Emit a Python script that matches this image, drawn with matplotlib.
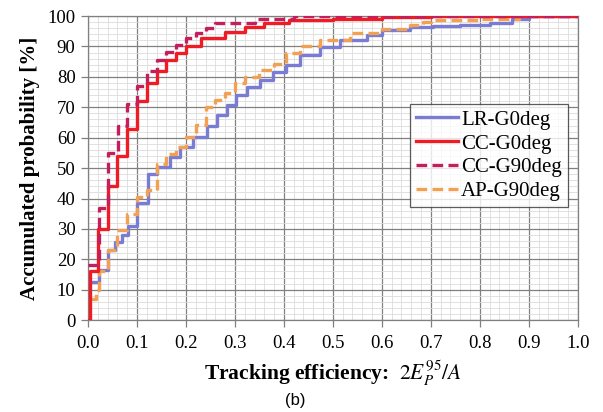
import matplotlib
matplotlib.use("Agg")
import matplotlib.pyplot as plt
from matplotlib.ticker import MultipleLocator

# ---- data ----
lr_x = [0.0, 0.022, 0.04, 0.055, 0.069, 0.082, 0.10, 0.123, 0.14, 0.167, 0.188, 0.215, 0.242, 0.263,
        0.283, 0.303, 0.324, 0.351, 0.378, 0.405, 0.433, 0.473, 0.514, 0.569, 0.60, 0.657, 0.704,
        0.76, 0.82, 0.865, 0.90, 1.0]
lr_y = [12.5, 16.4, 23, 25.8, 28, 31, 38.4, 48.2, 50.4, 53.7, 57, 60.3, 64, 67.4,
        70.7, 74, 76.8, 79, 81.7, 83.9, 87.2, 89.9, 92.1, 93.8, 95.4, 96.3, 96.7,
        97.2, 97.6, 99.2, 100, 100]

cc0_x = [0.0, 0.004, 0.02, 0.04, 0.06, 0.08, 0.10, 0.12, 0.14, 0.16, 0.18, 0.20, 0.23, 0.28, 0.32,
         0.36, 0.41, 0.50, 0.60, 0.70, 1.0]
cc0_y = [0, 16, 30, 44, 54, 63, 72, 78, 82, 85.5, 88, 90, 92.8, 94.8, 96.5,
         97.6, 98.7, 99.2, 99.6, 100, 100]

cc90_x = [0.0, 0.022, 0.04, 0.062, 0.08, 0.10, 0.12, 0.14, 0.16, 0.18, 0.20, 0.22, 0.24, 0.26, 0.34,
          0.42, 1.0]
cc90_y = [18, 37, 55, 64, 71, 77, 82, 85.5, 88.3, 90.5, 92.7, 94.5, 96, 97.6, 99.2,
          100, 100]

ap_x = [0.004, 0.016, 0.022, 0.04, 0.06, 0.08, 0.10, 0.12, 0.14, 0.16, 0.18, 0.20, 0.22, 0.24, 0.26,
        0.28, 0.30, 0.32, 0.35, 0.38, 0.405, 0.433, 0.473, 0.535, 0.60, 0.657, 0.684, 0.70, 0.80,
        0.88, 1.0]
ap_y = [7, 10, 16, 23, 29.6, 35, 40.6, 42.8, 51.5, 54.8, 57, 60.3, 64.1, 70.2, 72.4,
        74.6, 77.9, 80, 82.2, 84.4, 87.7, 90, 92.1, 94.3, 95.9, 97, 98.1, 98.7, 99.2,
        100, 100]

x_ticks = [0.0, 0.1, 0.2, 0.3, 0.4, 0.5, 0.6, 0.7, 0.8, 0.9, 1.0]
y_ticks = [0, 10, 20, 30, 40, 50, 60, 70, 80, 90, 100]

plt.rcParams['font.family'] = ['Liberation Serif', 'DejaVu Serif']
plt.rcParams['mathtext.fontset'] = 'stix'

fig = plt.figure(figsize=(6.03, 4.12), dpi=100)
ax = fig.add_axes([0.146, 0.223, 0.812, 0.738])

ax.step(lr_x, lr_y, where='post', color='#7A7CD4', lw=2.4, label='LR-G0deg', zorder=3)
ax.step(cc0_x, cc0_y, where='post', color='#EE1C25', lw=2.4, label='CC-G0deg', zorder=4)
ax.step(cc90_x, cc90_y, where='post', color='#C41E5C', lw=2.4, ls=(0, (3.2, 1.6)),
        label='CC-G90deg', zorder=5)
ax.step(ap_x, ap_y, where='post', color='#F2A152', lw=2.4, ls=(0, (3.2, 1.6)),
        label='AP-G90deg', zorder=3)

ax.set_xlim(0, 1.0)
ax.set_ylim(0, 100)
ax.set_xticks(x_ticks)
ax.set_xticklabels([f"{v:.1f}" for v in x_ticks])
ax.set_yticks(y_ticks)
ax.xaxis.set_minor_locator(MultipleLocator(0.02))
ax.yaxis.set_minor_locator(MultipleLocator(2))
ax.grid(which='major', color='#808080', lw=0.9)
ax.grid(which='minor', color='#dcdcdc', lw=0.6)
ax.set_axisbelow(True)
ax.tick_params(which='minor', length=0)
ax.tick_params(which='major', length=5, width=0.9, color='#808080', labelsize=13.5, pad=4)
ax.tick_params(axis='x', pad=6)
for s in ax.spines.values():
    s.set_color('#808080')
    s.set_linewidth(0.9)

ax.set_ylabel('Accumulated probability [%]', fontsize=15, fontweight='bold', labelpad=5)
ax.set_xlabel(r'Tracking efficiency:  $2E_P^{95}/A$', fontsize=15.5, fontweight='bold', labelpad=5)

leg = ax.legend(loc='upper right', bbox_to_anchor=(0.98, 0.711), fontsize=15, frameon=True,
                fancybox=False, handlelength=2.0, handletextpad=0.15, borderpad=0.3,
                labelspacing=0.2, borderaxespad=0)
leg.get_frame().set_edgecolor('#333333')
leg.get_frame().set_linewidth(0.9)

fig.text(0.49, 0.028, '(b)', ha='center', va='center', fontsize=12, family='Liberation Sans')

fig.savefig('out.png', dpi=100)
